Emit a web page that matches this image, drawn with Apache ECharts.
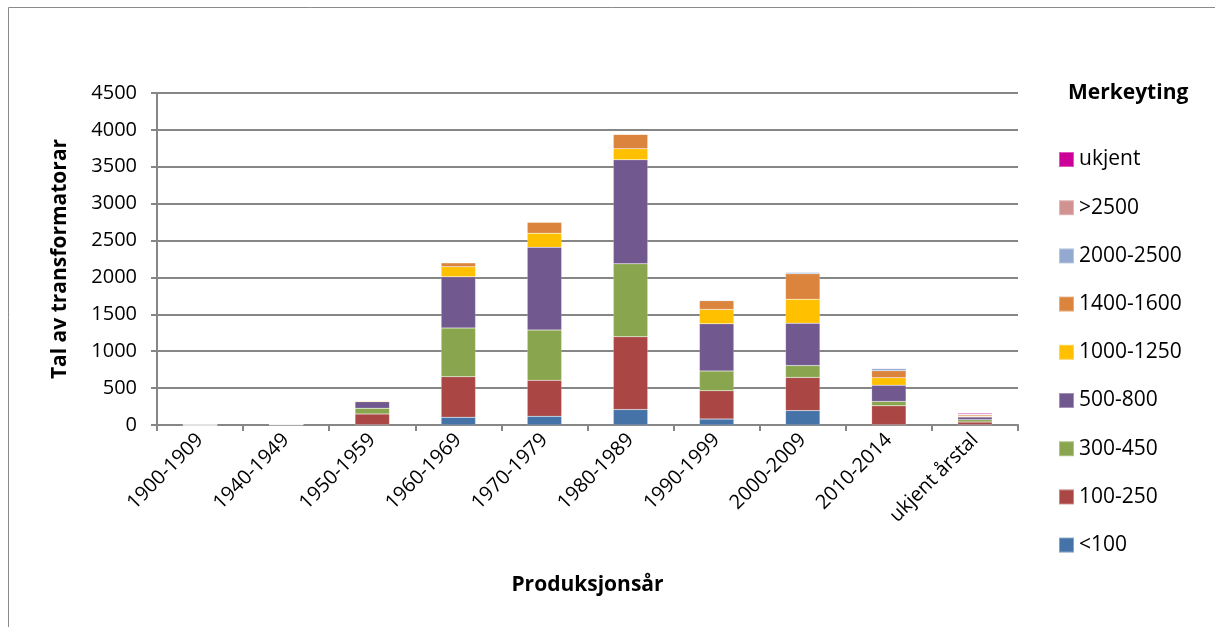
<!DOCTYPE html>
<html>
<head>
<meta charset="utf-8">
<script src="https://cdn.jsdelivr.net/npm/echarts@6/dist/echarts.min.js"></script>
<style>
  html, body { margin: 0; padding: 0; background: #fff; }
  #main { width: 1215px; height: 627px; }
</style>
</head>
<body>
<div id="main"></div>
<script>
// kategoriar (produksjonsår)
var years = ["1900-1909", "1940-1949", "1950-1959", "1960-1969", "1970-1979",
             "1980-1989", "1990-1999", "2000-2009", "2010-2014", "ukjent årstal"];

// merkeyting, frå botn og opp
var under100   = [0, 0, 5, 105, 118, 210, 80, 195, 5, 5];
var s100_250   = [0, 4, 145, 550, 487, 986, 385, 450, 255, 35];
var s300_450   = [0, 0, 76, 660, 682, 990, 267, 160, 60, 30];
var s500_800   = [0, 4, 90, 695, 1123, 1409, 640, 575, 220, 40];
var s1000_1250 = [0, 0, 10, 135, 190, 150, 195, 325, 100, 10];
var s1400_1600 = [0, 0, 4, 55, 150, 195, 118, 345, 95, 15];
var s2000_2500 = [0, 0, 0, 0, 0, 0, 8, 20, 30, 10];
var over2500   = [0, 2, 0, 0, 0, 0, 0, 3, 7, 5];
var ukjent     = [0, 0, 0, 0, 0, 0, 0, 0, 0, 12];

var yTicks = [0, 500, 1000, 1500, 2000, 2500, 3000, 3500, 4000, 4500];

var font = "'Open Sans', 'Liberation Sans', sans-serif";

var seriesDef = [
  { name: "<100", data: under100, color: "#4572A7" },
  { name: "100-250", data: s100_250, color: "#AA4643" },
  { name: "300-450", data: s300_450, color: "#89A54E" },
  { name: "500-800", data: s500_800, color: "#71588F" },
  { name: "1000-1250", data: s1000_1250, color: "#FFC000" },
  { name: "1400-1600", data: s1400_1600, color: "#DB843D" },
  { name: "2000-2500", data: s2000_2500, color: "#93A9CF" },
  { name: ">2500", data: over2500, color: "#D19392" },
  { name: "ukjent", data: ukjent, color: "#CC0099" }
];

var myChart = echarts.init(document.getElementById("main"));

var option = {
  animation: false,
  textStyle: { fontFamily: font },
  graphic: [
    {
      type: "rect",
      shape: { x: 8.5, y: 7.5, width: 1220, height: 630 },
      style: { fill: "none", stroke: "#8a8a8a", lineWidth: 1 }
    },
    {
      type: "text",
      left: 1068, top: 83,
      style: { text: "Merkeyting", font: "bold 21px " + font, fill: "#000" }
    }
  ],
  grid: { left: 157, right: 197, top: 93, bottom: 202 },
  legend: {
    orient: "vertical",
    left: 1053,
    top: 144,
    itemWidth: 15,
    itemHeight: 15,
    itemGap: 27.2,
    icon: "rect",
    data: seriesDef.map(function (s) { return s.name; }).reverse(),
    textStyle: { fontSize: 21, lineHeight: 21, color: "#000", fontFamily: font }
  },
  xAxis: {
    type: "category",
    data: years,
    name: "Produksjonsår",
    nameLocation: "middle",
    nameGap: 150,
    nameTextStyle: { fontSize: 21, fontWeight: "bold", color: "#000" },
    axisLine: { lineStyle: { color: "#868686", width: 2 } },
    axisTick: { show: true, length: 6, lineStyle: { color: "#868686", width: 2 } },
    axisLabel: { rotate: 45, fontSize: 20, color: "#000", margin: 12, interval: 0 }
  },
  yAxis: {
    type: "value",
    min: yTicks[0],
    max: yTicks[yTicks.length - 1],
    interval: 500,
    name: "Tal av transformatorar",
    nameLocation: "middle",
    nameGap: 86,
    nameTextStyle: { fontSize: 21, fontWeight: "bold", color: "#000" },
    axisLine: { show: true, lineStyle: { color: "#868686", width: 2 } },
    axisTick: { show: true, length: 6, lineStyle: { color: "#868686", width: 2 } },
    axisLabel: {
      fontSize: 20, color: "#000", margin: 20,
      formatter: function (v) { return String(v); }
    },
    splitLine: { lineStyle: { color: "#868686", width: 2 } }
  },
  series: seriesDef.map(function (s) {
    return {
      name: s.name,
      type: "bar",
      stack: "total",
      barWidth: "40%",
      data: s.data,
      itemStyle: { color: s.color, borderColor: "rgba(255,255,255,0.35)", borderWidth: 0.5 }
    };
  })
};

myChart.setOption(option);
</script>
</body>
</html>
